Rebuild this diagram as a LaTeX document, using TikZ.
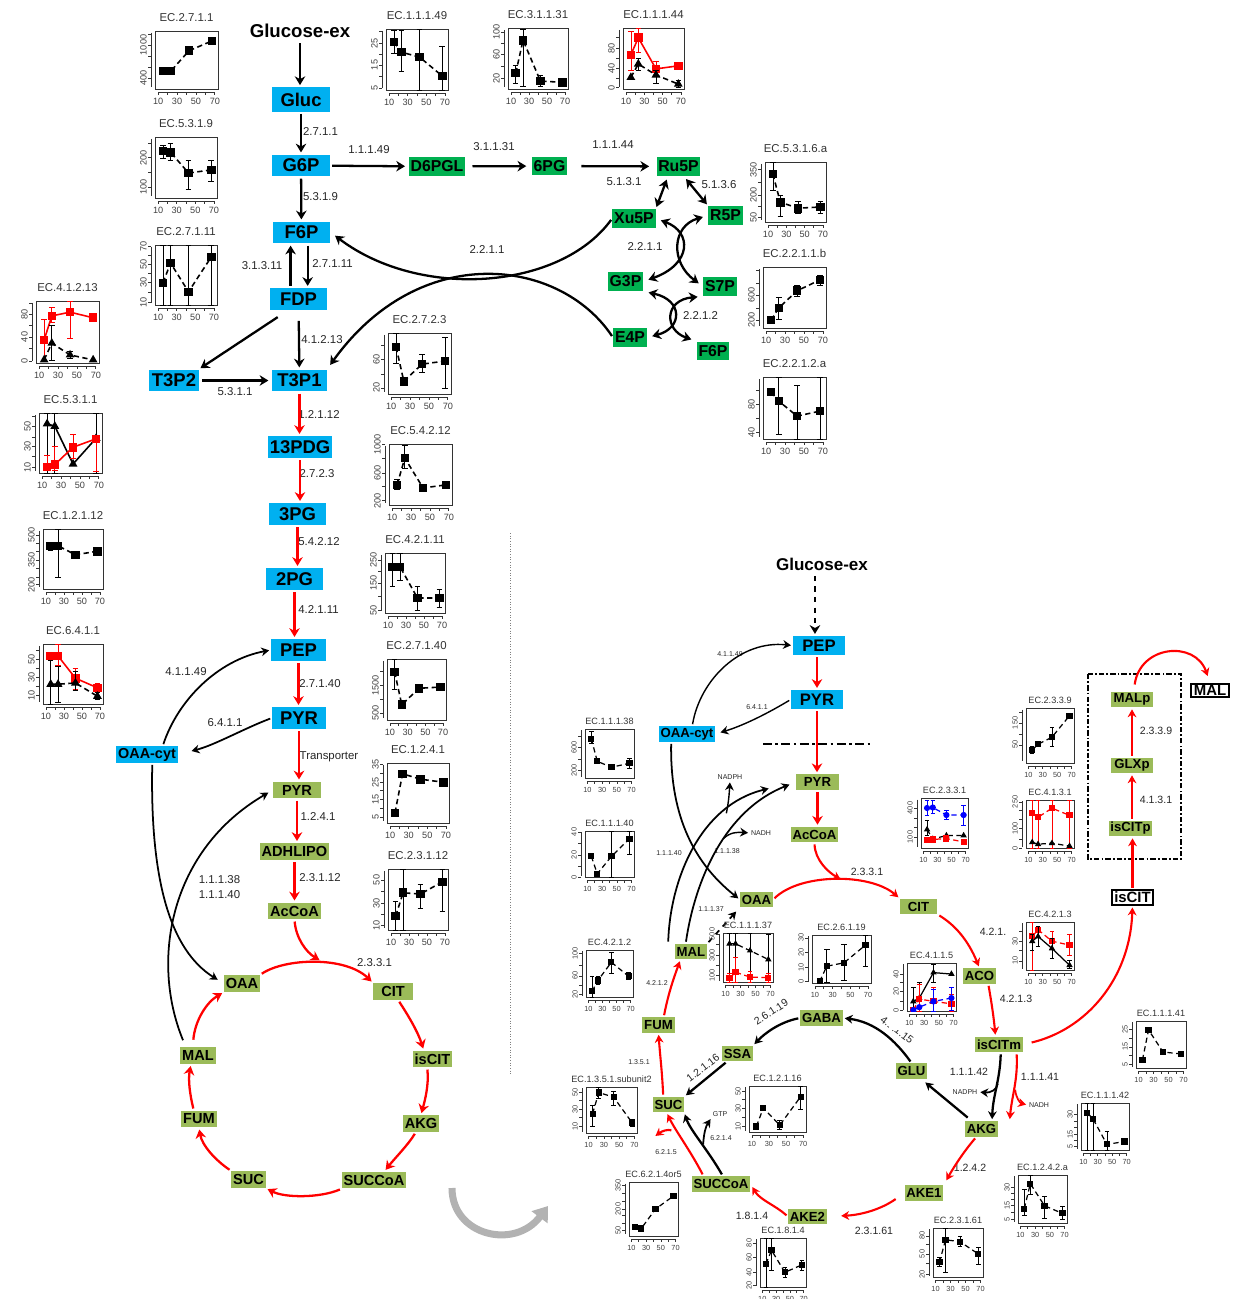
\documentclass[tikz,border=0pt]{standalone}
\usepackage{fontspec}
\setmainfont{Liberation Sans}
\usetikzlibrary{arrows.meta,plotmarks}
\definecolor{cytblue}{HTML}{00B0F0}
\definecolor{pppgreen}{HTML}{00B050}
\definecolor{mitogreen}{HTML}{9BBB59}
\newcommand\ecplot[8][]{%
  \begin{scope}[shift={(#2,#3)},#1]
    \draw[pframe] (0,0) rectangle (#4,#5);
    \node[ptitle] at ({#4/2},0) {#6};
    \draw[paxis] (-4,{0.03*#5}) -- (-4,{0.97*#5});
    \foreach \f/\l in {#7}{\draw[paxis] (-4,{(1-\f)*#5}) -- (-7,{(1-\f)*#5}) node[ylab] {\l};}
    \draw[paxis] ({0.05*#4},#5+3) -- ({0.95*#4},#5+3);
    \foreach \d in {10,20,...,70}{\draw[paxis] ({(0.015*\d-0.1)*#4},#5+3) -- ({(0.015*\d-0.1)*#4},#5+6);}
    \foreach \d in {10,30,50,70}{\node[xlab] at ({(0.015*\d-0.1)*#4},#5+8) {\d};}
    \pgfmathsetmacro\ecxu{0.0003*#4}%
    \pgfmathsetmacro\ecyu{0.02*#5}%
    \begin{scope}[shift={({-0.1*#4},#5)},x=\ecxu cm,y=\ecyu cm]
      \clip (6.67,0) rectangle (73.33,1);
      #8
    \end{scope}
  \end{scope}}
\newcommand\sq[2][]{\draw[pline,#1,mark=square*] plot coordinates {#2};}
\newcommand\tri[2][]{\draw[pline,#1,mark=triangle*] plot coordinates {#2};}
\newcommand\circs[2][]{\draw[pline,blue,#1,mark=*] plot coordinates {#2};}
\newcommand\eb[4][]{\draw[ebar,#1] (#2,#3) -- (#2,#4) (#2-3,#3) -- (#2+3,#3) (#2-3,#4) -- (#2+3,#4);}
\begin{document}
\begin{tikzpicture}[x=0.02cm,y=-0.02cm,
  bluebox/.style={fill=cytblue,font=\fontsize{10.5}{12}\selectfont\bfseries,minimum width=33pt,minimum height=12.5pt,inner sep=1pt},
  bluesm/.style={bluebox,font=\fontsize{9.5}{11}\selectfont\bfseries,minimum width=29.5pt,minimum height=10.8pt},
  cytsm/.style={bluebox,font=\fontsize{8.2}{9}\selectfont\bfseries,minimum width=0pt,minimum height=9.5pt},
  pppbox/.style={fill=pppgreen,font=\fontsize{9}{10}\selectfont\bfseries,minimum height=10.8pt,inner xsep=1pt,inner ysep=0pt},
  mitobox/.style={fill=mitogreen,font=\fontsize{8.3}{9}\selectfont\bfseries,minimum height=9.6pt,inner xsep=1pt,inner ysep=0pt},
  mitosm/.style={mitobox,font=\fontsize{7.5}{8}\selectfont\bfseries,minimum height=8.8pt},
  outbox/.style={draw,line width=1.1pt,font=\fontsize{8.5}{9}\selectfont\bfseries,inner xsep=1.5pt,inner ysep=1pt},
  glc/.style={font=\fontsize{10.6}{12}\selectfont\bfseries,inner sep=1pt},
  ec/.style={font=\fontsize{6.5}{9}\selectfont,inner sep=0.5pt,text=black!85},
  ecm/.style={ec,font=\fontsize{6}{7}\selectfont},
  ecs/.style={ec,font=\fontsize{4}{5}\selectfont},
  flux/.style={line width=1.3pt,-{Stealth[length=5pt,width=6pt]},shorten >=1pt,shorten <=1pt},
  rflux/.style={flux,red},
  dflux/.style={flux,{Stealth[length=5pt,width=6pt]}-{Stealth[length=5pt,width=6pt]}},
  tflux/.style={line width=1pt,-{Stealth[length=4.5pt,width=5pt]},shorten >=1pt,shorten <=1pt},
  rtflux/.style={tflux,red,line width=1.2pt},
  dashdot/.style={line width=1.3pt,dash pattern=on 5pt off 2pt on 1.5pt off 2pt},
  boxdash/.style={line width=1pt,dash pattern=on 3pt off 1.2pt on 1pt off 1.2pt},
  pframe/.style={line width=0.5pt,black!80},
  paxis/.style={line width=0.4pt,black!80},
  ptitle/.style={anchor=south,yshift=4pt,inner sep=1pt,font=\fontsize{6.5}{7}\selectfont,text=black!80},
  ptick/.style={inner sep=0.6pt,font=\fontsize{5.2}{6}\selectfont,text=black!75},
  ylab/.style={ptick,rotate=90,anchor=south},
  xlab/.style={ptick,anchor=north},
  pline/.style={black,densely dashed,line width=0.9pt,mark size=2pt,mark options={solid}},
  ebar/.style={black,line width=0.4pt},
  smallplot/.style={ptitle/.append style={yshift=-2.5pt,font=\fontsize{5.2}{6}\selectfont},ptick/.append style={font=\fontsize{4.2}{5}\selectfont},pline/.append style={mark size=1.4pt,line width=0.7pt}}]
\useasboundingbox (0,0) rectangle (1236,1299);

\node[glc] (glcex) at (300,31) {Glucose-ex};
\node[bluebox,minimum height=14pt] (gluc) at (301,99.5) {Gluc};
\node[bluebox] (g6p) at (301,165.5) {G6P};
\node[bluebox] (f6p) at (301.5,232.5) {F6P};
\node[bluebox] (fdp) at (298.5,299) {FDP};
\node[bluebox,minimum width=28pt] (tp2) at (174,380.5) {T3P2};
\node[bluebox,minimum width=31pt] (tp1) at (299.5,380.5) {T3P1};
\node[bluebox] (pdg) at (300,447) {13PDG};
\node[bluebox] (pg3) at (297.5,514) {3PG};
\node[bluebox] (pg2) at (294.5,579) {2PG};
\node[bluebox,minimum width=31pt] (pep) at (298.5,650) {PEP};
\node[bluebox,minimum width=30.5pt] (pyr) at (299,718) {PYR};
\node[cytsm] (oaacyt) at (147,754.5) {OAA-cyt};
\node[mitobox,minimum width=27pt] (pyrm) at (297,790) {PYR};
\node[mitobox] (adh) at (294.5,851.5) {ADHLIPO};
\node[mitobox] (accoa) at (294.5,911) {AcCoA};
\node[mitobox] (oaa) at (242,983.5) {OAA};
\node[mitobox,minimum width=22.5pt] (cit) at (393,991.5) {CIT};
\node[mitobox] (iscit) at (432.5,1059) {isCIT};
\node[mitobox] (akg) at (421,1123.5) {AKG};
\node[mitobox] (succoa) at (374,1180) {SUCCoA};
\node[mitobox] (suc) at (248.5,1179.5) {SUC};
\node[mitobox] (fum) at (199,1119) {FUM};
\node[mitobox] (mal) at (198,1055.5) {MAL};
\node[pppbox] (d6pgl) at (437,166.5) {D6PGL};
\node[pppbox] (pg6) at (549.5,166) {6PG};
\node[pppbox] (ru5p) at (678.5,166.5) {Ru5P};
\node[pppbox] (xu5p) at (634,218.5) {Xu5P};
\node[pppbox] (r5p) at (725.5,215.5) {R5P};
\node[pppbox] (g3p) at (625.5,281.5) {G3P};
\node[pppbox] (s7p) at (720,286.5) {S7P};
\node[pppbox] (e4p) at (630,337.5) {E4P};
\node[pppbox] (f6pb) at (713,351) {F6P};

\node[ec] (t2711) at (320.5,131.5) {2.7.1.1};
\node[ec] (t11149) at (369,150) {1.1.1.49};
\node[ec] (t31131) at (494,146.5) {3.1.1.31};
\node[ec] (t11144) at (613,145) {1.1.1.44};
\node[ec] (t5131) at (624,182) {5.1.3.1};
\node[ec] (t5136) at (719,185) {5.1.3.6};
\node[ec] (t2211a) at (487,250) {2.2.1.1};
\node[ec] (t2211b) at (645,247) {2.2.1.1};
\node[ec] (t2212) at (700.5,316) {2.2.1.2};
\node[ec] (t5319) at (320.5,197) {5.3.1.9};
\node[ec] (t31311) at (262,266) {3.1.3.11};
\node[ec] (t27111) at (332.5,264) {2.7.1.11};
\node[ec] (t41213) at (322,340) {4.1.2.13};
\node[ec] (t5311) at (235,391.5) {5.3.1.1};
\node[ec] (t12112) at (319,415) {1.2.1.12};
\node[ec] (t2723) at (317,474) {2.7.2.3};
\node[ec] (t54212) at (319,542) {5.4.2.12};
\node[ec] (t42111) at (318.5,610) {4.2.1.11};
\node[ec] (t41149) at (186,672) {4.1.1.49};
\node[ec] (t27140) at (320,684) {2.7.1.40};
\node[ec] (t6411) at (225,723) {6.4.1.1};
\node[ec] (ttrans) at (329,757) {Transporter};
\node[ec] (t1241) at (318,816) {1.2.4.1};
\node[ec,align=center] (t11138) at (219.5,887) {1.1.1.38\\1.1.1.40};
\node[ec] (t23112) at (320,878) {2.3.1.12};
\node[ec] (t2331) at (374.5,963) {2.3.3.1};

\draw[flux,shorten <=2pt] (glcex.south) -- (glcex.south |- gluc.north);
\draw[flux] (gluc) -- (g6p);
\draw[flux] (g6p) -- (f6p);
\draw[flux] ([xshift=3.5pt]f6p.south) -- ([xshift=3.5pt]f6p.south |- fdp.north);
\draw[flux] ([xshift=-4.5pt]fdp.north) -- ([xshift=-4.5pt]fdp.north |- f6p.south);
\draw[flux,shorten >=2pt] (g6p) -- (d6pgl);
\draw[flux,shorten <=4pt,shorten >=3pt] (d6pgl) -- (pg6);
\draw[flux,shorten <=8pt,shorten >=4pt] (pg6) -- (ru5p);
\draw[dflux,shorten <=2pt] ([xshift=-6pt]ru5p.south) -- (xu5p.north east);
\draw[dflux,shorten <=2pt] ([xshift=3pt]ru5p.south) -- (r5p.north west);
\draw[dflux,shorten <=3pt,shorten >=3pt] (xu5p.east) .. controls (692,232) and (692,264) .. (g3p.east);
\draw[dflux,shorten <=3pt,shorten >=3pt] (r5p.west) .. controls (672,226) and (670,262) .. (s7p.west);
\draw[dflux,shorten <=3pt,shorten >=3pt] (g3p.south east) .. controls (683,300) and (683,328) .. (e4p.east);
\draw[dflux,shorten <=3pt,shorten >=3pt] (s7p.south west) .. controls (664,300) and (664,330) .. (f6pb.north west);
\draw[flux,shorten >=3pt] (xu5p.west) .. controls (560,290) and (420,300) .. (f6p.east);
\draw[flux,shorten >=3pt] (e4p.west) .. controls (560,258) and (420,240) .. (tp1.north east);
\draw[flux,shorten <=7pt] ([xshift=-6pt]fdp.south) -- (tp2.north east);
\draw[flux,shorten <=6pt] (fdp) -- (tp1);
\draw[flux,shorten <=2pt,shorten >=2pt] (tp2) -- (tp1);
\foreach \a/\b in {tp1/pdg,pdg/pg3,pg3/pg2,pg2/pep,pep/pyr,pyr/pyrm,pyrm/adh,adh/accoa}
  \draw[rflux] (\a.south) -- (\a.south |- \b.north);

\coordinate (ctop) at (321,961);
\draw[rflux] (accoa.south) .. controls (296,938) and (306,952) .. (ctop);
\draw[rflux] (oaa.north east) .. controls (285,958) and (345,956) .. (cit.north west);
\draw[rflux] ([xshift=3pt]cit.south) .. controls (408,1015) and (418,1032) .. ([xshift=-5pt]iscit.north);
\draw[rflux] ([xshift=-3pt]iscit.south) .. controls (429,1085) and (425,1100) .. (akg.north);
\draw[rflux] ([xshift=-3pt]akg.south) .. controls (408,1145) and (395,1158) .. ([xshift=6pt]succoa.north);
\draw[rflux] (succoa.south west) .. controls (320,1198) and (285,1198) .. (suc.south east);
\draw[rflux] (suc.north west) .. controls (215,1160) and (202,1145) .. (fum.south);
\draw[rflux] ([xshift=-3pt]fum.north) .. controls (190,1095) and (188,1080) .. ([xshift=-4pt]mal.south);
\draw[rflux,shorten <=4pt] ([xshift=-3pt]mal.north) .. controls (195,1020) and (207,1002) .. (oaa.south west);

\draw[tflux] ([xshift=9pt]oaacyt.north) .. controls (178,700) and (218,660) .. (pep.west);
\draw[tflux,shorten >=8pt] (pyr.west) .. controls (245,728) and (215,745) .. (oaacyt.east);
\draw[tflux,shorten >=4pt] ([xshift=3pt]oaacyt.south) .. controls (150,880) and (170,950) .. (oaa.west);
\draw[tflux,shorten <=4pt,shorten >=3pt] ([xshift=-7pt]mal.north) .. controls (150,960) and (170,850) .. (pyrm.west);

\draw[black!50,densely dotted,line width=0.5pt] (510,533) -- (510,1075);
\draw[black!30,line width=4pt,-{Triangle[length=8pt,width=11pt]}] (452,1188) .. controls (452,1236) and (515,1250) .. (548,1206);

\node[glc,font=\fontsize{9.7}{11}\selectfont\bfseries] (glcex2) at (822,564) {Glucose-ex};
\node[bluesm] (pep2) at (819,645.5) {PEP};
\node[bluesm] (pyr2) at (817,699.5) {PYR};
\node[cytsm,font=\fontsize{7.5}{8}\selectfont\bfseries,minimum height=8pt] (oaacyt2) at (687,734) {OAA-cyt};
\node[mitosm,minimum width=24pt] (pyrm2) at (817.5,782) {PYR};
\node[mitosm] (accoa2) at (814.5,834.5) {AcCoA};
\node[mitosm] (oaa2) at (756.5,899.5) {OAA};
\node[mitosm,minimum width=21pt] (cit2) at (918.5,906.5) {CIT};
\node[mitosm] (aco) at (979.5,976) {ACO};
\node[mitosm] (iscitm) at (999,1044.5) {isCITm};
\node[mitosm] (glu) at (911.5,1071) {GLU};
\node[mitosm] (akg2) at (981.5,1129) {AKG};
\node[mitosm] (ake1) at (924,1193) {AKE1};
\node[mitosm] (ake2) at (807.5,1216.5) {AKE2};
\node[mitosm] (succoa2) at (721,1184) {SUCCoA};
\node[mitosm] (suc2) at (668.5,1104.5) {SUC};
\node[mitosm] (ssa) at (737.5,1053.5) {SSA};
\node[mitosm] (gaba) at (821.5,1018) {GABA};
\node[mitosm] (fum2) at (658.5,1025) {FUM};
\node[mitosm] (mal2) at (691,951.5) {MAL};
\node[outbox] (iscit2) at (1132.5,897.5) {isCIT};
\node[mitosm,minimum width=24pt] (iscitp) at (1130.5,828.5) {isCITp};
\node[mitosm,minimum width=23.5pt] (glxp) at (1132,765.5) {GLXp};
\node[mitosm,minimum width=23.5pt] (malp) at (1132,699.5) {MALp};
\node[outbox] (mal3) at (1210,690.5) {MAL};
\draw[boxdash] (1088,674) rectangle (1181,859);

\node[ecs] (r41149) at (730,654) {4.1.1.49};
\node[ecs] (r6411) at (757,707) {6.4.1.1};
\node[ecs] (nadpha) at (730,777) {NADPH};
\node[ecs] (nadha) at (761,833) {NADH};
\node[ecs] (r11140) at (669,853) {1.1.1.40};
\node[ecs] (r11138) at (727,851) {1.1.1.38};
\node[ecm] (r2331) at (867,872) {2.3.3.1};
\node[ecs] (r11137) at (711,909) {1.1.1.37};
\node[ecs] (r4212) at (657,983) {4.2.1.2};
\node[ecm] (r421) at (993,932) {4.2.1.};
\node[ecm] (r4213) at (1016,999) {4.2.1.3};
\node[ecm] (r11142) at (969,1072) {1.1.1.42};
\node[ecs] (nadphb) at (965,1092) {NADPH};
\node[ecm] (r11141) at (1040,1077) {1.1.1.41};
\node[ecs] (nadhb) at (1039,1105) {NADH};
\node[ecm] (r1242) at (970,1168) {1.2.4.2};
\node[ecm] (r23161) at (874,1231) {2.3.1.61};
\node[ecm] (r1814) at (752,1216) {1.8.1.4};
\node[ecs] (r1351) at (639,1062) {1.3.5.1};
\node[ecs] (r6215) at (666,1152) {6.2.1.5};
\node[ecs] (gtp) at (720,1114) {GTP};
\node[ecs] (r6214) at (721,1138) {6.2.1.4};
\node[ecm,rotate=33] (r26119) at (771,1012) {2.6.1.19};
\node[ecm,rotate=37] (r12116) at (703,1068) {1.2.1.16};
\node[ecm,rotate=-37] (r41115) at (897,1030) {4.1.1.15};
\node[ecm] (r2339) at (1156,731) {2.3.3.9};
\node[ecm] (r4131) at (1156,800) {4.1.3.1};

\draw[flux,dashed,shorten <=2pt] ([xshift=-4pt]glcex2.south) -- ([xshift=-4pt]glcex2.south |- pep2.north);
\draw[rflux,line width=1.2pt] (pyr2.north |- pep2.south) -- (pyr2.north);
\draw[rflux,line width=1.2pt] (pyr2.south) -- (pyr2.south |- pyrm2.north);
\draw[dashdot] (763,744) -- (872,744);
\draw[rflux,line width=1.2pt] (pyrm2.south) -- (pyrm2.south |- accoa2.north);
\draw[tflux,line width=0.8pt] ([xshift=3pt]oaacyt2.north) .. controls (700,680) and (740,640) .. (pep2.west);
\draw[tflux,line width=0.8pt,shorten >=3pt] (pyr2.west) .. controls (770,712) and (745,725) .. (oaacyt2.east);
\draw[tflux] ([xshift=-9pt]oaacyt2.south) .. controls (670,810) and (690,860) .. (oaa2.west);
\coordinate (tcatop) at (842,880);
\draw[rtflux] (accoa2.south) .. controls (815,860) and (828,872) .. (tcatop);
\draw[rtflux] (oaa2.east) .. controls (800,873) and (870,873) .. (cit2.north west);
\draw[rtflux] ([xshift=11pt]cit2.south) .. controls (955,925) and (968,940) .. (aco.north);
\draw[rtflux] ([xshift=5pt]aco.south) .. controls (992,1005) and (994,1020) .. ([xshift=-2pt]iscitm.north);
\draw[rtflux,shorten <=5pt] (iscitm.east) .. controls (1085,1030) and (1130,980) .. (iscit2.south);
\draw[rtflux] (iscit2.north) -- (iscit2.north |- iscitp.south);
\draw[rtflux] (glxp.south |- iscitp.north) -- (glxp.south);
\draw[rtflux] (glxp.north) -- (glxp.north |- malp.south);
\draw[rtflux,shorten <=4pt,shorten >=4pt] ([xshift=1pt]malp.north) .. controls (1140,645) and (1195,640) .. (mal3.north);
\draw[tflux,line width=1.3pt] ([xshift=1pt]iscitm.south) .. controls (1000,1080) and (993,1095) .. ([xshift=6pt]akg2.north);
\coordinate (bra) at (998,1082);
\draw[tflux] (bra) .. controls (997,1090) and (990,1093) .. (nadphb.east);
\draw[rtflux] ([xshift=10pt]iscitm.south) .. controls (1018,1080) and (1012,1095) .. ([xshift=16pt]akg2.north);
\coordinate (brb) at (1015,1088);
\draw[rtflux,line width=1pt] (brb) .. controls (1016,1098) and (1020,1103) .. (nadhb.west);
\draw[tflux,line width=1.3pt,shorten <=3pt,shorten >=3pt] (akg2) -- (glu);
\draw[rtflux,shorten >=3pt] ([xshift=-3pt]akg2.south) .. controls (965,1150) and (955,1165) .. (ake1.north east);
\draw[rtflux,shorten <=6pt,shorten >=8pt] (ake1.west) .. controls (880,1210) and (860,1215) .. (ake2.east);
\draw[rtflux,shorten >=2pt] (ake2.west) .. controls (775,1205) and (760,1200) .. (succoa2.east);
\draw[tflux,line width=1.3pt] (glu.north) .. controls (895,1040) and (875,1022) .. (gaba.east);
\draw[tflux,line width=1.3pt] (gaba.west) .. controls (780,1022) and (765,1033) .. (ssa.north east);
\draw[tflux,line width=1.3pt] ([xshift=-6pt]ssa.south) -- (suc2.north east);
\draw[tflux,line width=1.3pt] ([xshift=1pt]succoa2.north) .. controls (708,1150) and (690,1130) .. ([xshift=9pt]suc2.south);
\coordinate (brc) at (703,1146);
\draw[tflux] (brc) .. controls (704,1132) and (706,1126) .. (gtp.south west);
\draw[rtflux] ([xshift=-10pt]succoa2.north) .. controls (690,1150) and (675,1130) .. ([xshift=-1pt]suc2.south);
\coordinate (brd) at (673,1131);
\coordinate (sucout) at (654,1137);
\draw[rtflux] (brd) .. controls (668,1129) and (662,1131) .. (sucout);
\draw[rtflux] ([xshift=-3pt]suc2.north) .. controls (662,1070) and (660,1055) .. (fum2.south);
\draw[rtflux] ([xshift=3pt]fum2.north) .. controls (668,995) and (673,980) .. ([xshift=-6pt]mal2.south);
\draw[tflux,dashed,shorten >=3pt] (mal2.north east) -- (oaa2.south west);
\draw[tflux,shorten >=16pt] ([xshift=-13pt]mal2.north) .. controls (670,880) and (700,805) .. (pyrm2.west);
\coordinate (bre) at (726,815);
\draw[tflux,line width=0.8pt] (bre) .. controls (728,805) and (729,798) .. (nadpha.south);
\draw[tflux,shorten >=4pt] ([xshift=-3pt]mal2.north) .. controls (695,880) and (725,810) .. (pyrm2.west);
\coordinate (brf) at (722,840);
\draw[tflux,line width=0.8pt] (brf) .. controls (730,832) and (738,832) .. (nadha.west);

\ecplot{155}{31}{63}{58}{EC.2.7.1.1}{0.19/400,0.38/{},0.57/{},0.76/1000,0.95/{}}{\sq{(15,.31) (23,.31) (42,.66) (66,.83)}\eb{15}{.27}{.34}\eb{23}{.27}{.34}}
\ecplot{155}{137}{62}{61}{EC.5.3.1.9}{0.18/100,0.42/{},0.66/200,0.9/{}}{\sq{(15,.77) (23,.75) (42,.41) (66,.46)}\eb{15}{.65}{.87}\eb{23}{.62}{.9}\eb{42}{.15}{.62}\eb{66}{.28}{.62}}
\ecplot{155}{245}{62}{60}{EC.2.7.1.11}{0.05/10,0.21/{},0.37/30,0.52/{},0.67/50,0.82/{},0.97/70}{\sq{(15,.37) (23,.70) (42,.22) (66,.80)}\eb{15}{0}{1}\eb{23}{0}{1}\eb{42}{0}{1}\eb{66}{0}{1}}
\ecplot{386}{29}{62}{61}{EC.1.1.1.49}{0.03/5,0.22/{},0.41/15,0.59/{},0.77/25,0.96/{}}{\sq{(15,.79) (23,.62) (42,.54) (66,.23)}\eb{15}{.6}{.97}\eb{23}{.3}{.97}\eb{42}{0}{1}\eb{66}{0}{.72}}
\ecplot{508}{28}{60}{61}{EC.3.1.1.31}{0.18/20,0.37/{},0.56/60,0.75/{},0.93/100}{\sq{(15,.26) (23,.8) (42,.13) (66,.11)}\eb{15}{.1}{.38}\eb{23}{.05}{.97}\eb{42}{.05}{.22}}
\ecplot{623}{28}{61}{61}{EC.1.1.1.44}{0.02/0,0.18/{},0.34/40,0.51/{},0.67/80,0.84/{}}{\sq[red,solid]{(15,.56) (23,.84) (42,.33) (66,.38)}\eb[red]{15}{.3}{.95}\eb[red]{23}{.6}{1}\eb[red]{42}{.1}{.45}\tri{(15,.19) (23,.41) (42,.23) (66,.08)}\eb{23}{.3}{.5}\eb{42}{.1}{.3}\eb{66}{.03}{.15}}
\ecplot{765}{162}{61}{60}{EC.5.3.1.6.a}{0.07/50,0.26/{},0.45/200,0.66/{},0.87/350}{\sq{(15,.8) (23,.33) (42,.23) (66,.25)}\eb{15}{.53}{1}\eb{23}{.1}{.45}\eb{42}{.15}{.35}\eb{66}{.15}{.35}}
\ecplot{763}{267}{63}{61}{EC.2.2.1.1.b}{0.13/200,0.33/{},0.54/600,0.74/{},0.94/{}}{\sq{(15,.13) (23,.33) (42,.61) (66,.79)}\eb{15}{.07}{.18}\eb{23}{.15}{.5}\eb{42}{.52}{.7}\eb{66}{.7}{.87}}
\ecplot{763}{377}{63}{62}{EC.2.2.1.2.a}{0.11/40,0.33/{},0.56/80,0.78/{}}{\sq{(15,.76) (23,.61) (42,.37) (66,.45)}\eb{23}{.08}{1}\eb{42}{0}{.87}\eb{66}{0}{1}}
\ecplot{388}{333}{63}{61}{EC.2.7.2.3}{0.1/20,0.33/{},0.57/60,0.8/{}}{\sq{(15,.77) (23,.21) (42,.49) (66,.54)}\eb{15}{.5}{1}\eb{23}{.15}{.27}\eb{42}{.35}{.65}\eb{66}{.1}{.93}}
\ecplot{389}{444}{63}{61}{EC.5.4.2.12}{0.07/200,0.3/{},0.52/600,0.76/{},0.99/1000}{\sq{(15,.33) (23,.77) (42,.28) (66,.33)}\eb{15}{.25}{.42}\eb{23}{.6}{.98}}
\ecplot{385}{553}{60}{60}{EC.4.2.1.11}{0.05/50,0.27/{},0.5/150,0.7/{},0.88/250}{\sq{(15,.77) (23,.77) (42,.25) (66,.25)}\eb{15}{.45}{1}\eb{23}{.55}{1}\eb{42}{.05}{.45}\eb{66}{.1}{.4}}
\ecplot{387}{659}{59}{61}{EC.2.7.1.40}{0.11/500,0.34/{},0.57/1500,0.8/{}}{\sq{(15,.79) (23,.25) (42,.52) (66,.54)}\eb{15}{.5}{1}\eb{42}{.45}{.58}}
\ecplot{387}{763}{62}{60}{EC.1.2.4.1}{0.1/5,0.25/{},0.4/15,0.54/{},0.68/25,0.83/{},0.98/35}{\sq{(15,.17) (23,.82) (42,.73) (66,.68)}}
\ecplot{388}{869}{60}{61}{EC.2.3.1.12}{0.08/10,0.26/{},0.44/30,0.63/{},0.82/50}{\sq{(15,.23) (23,.61) (42,.59) (66,.79)}\eb{15}{0}{.47}\eb{23}{0}{1}\eb{42}{.35}{.75}\eb{66}{.3}{1}}
\ecplot{36}{301}{63}{62}{EC.4.1.2.13}{0.03/0,0.23/{},0.42/40,0.6/{},0.79/80,0.97/{}}{\sq[red,solid]{(15,.37) (23,.76) (42,.82) (66,.73)}\eb[red]{15}{.05}{.7}\eb[red]{23}{.65}{.9}\eb[red]{42}{.4}{1}\tri{(15,.05) (23,.32) (42,.13) (66,.05)}\eb{23}{.05}{.6}\eb{42}{.08}{.18}}
\ecplot{39}{413}{63}{60}{EC.5.3.1.1}{0.1/10,0.27/{},0.44/30,0.6/{},0.77/50,0.94/{}}{\tri[solid]{(15,.82) (23,.78) (42,.15) (66,.58)}\eb{15}{0}{1}\eb{23}{0}{1}\eb{66}{0}{1}\sq[red,solid]{(15,.1) (23,.14) (42,.43) (66,.57)}\eb[red]{15}{.05}{.3}\eb[red]{23}{.05}{.45}\eb[red]{42}{.25}{.65}\eb[red]{66}{.03}{.62}}
\ecplot{43}{529}{60}{60}{EC.1.2.1.12}{0.07/200,0.2/{},0.34/{},0.48/350,0.62/{},0.76/{},0.9/500}{\sq{(15,.72) (23,.72) (42,.57) (66,.63)}\eb{15}{.65}{.78}\eb{23}{.2}{1}}
\ecplot{43}{644}{60}{60}{EC.6.4.1.1}{0.15/10,0.3/{},0.45/30,0.6/{},0.75/50,0.9/{}}{\sq[red,solid]{(15,.8) (23,.8) (42,.43) (66,.27)}\eb[red]{23}{.65}{1}\eb[red]{42}{.25}{.6}\eb[red]{66}{.2}{.35}\tri{(15,.33) (23,.33) (42,.35) (66,.13)}\eb{15}{0}{.73}\eb{23}{.03}{.62}\eb{42}{.22}{.55}\eb{66}{.08}{.2}}

\ecplot[smallplot]{585}{729}{49}{49}{EC.1.1.1.38}{0.16/200,0.39/{},0.63/600,0.86/{}}{\sq{(15,.8) (23,.34) (42,.22) (66,.3)}\eb{15}{.7}{.95}\eb{66}{.2}{.4}}
\ecplot[smallplot]{585}{831}{49}{46}{EC.1.1.1.40}{0/0,0.24/{},0.48/20,0.73/{},0.98/40}{\sq{(15,.45) (23,.07) (42,.45) (66,.83)}\eb{42}{0}{1}\eb{66}{.5}{1}}
\ecplot[smallplot]{921}{798}{47}{50}{EC.2.3.3.1}{0.22/100,0.41/{},0.6/{},0.8/400}{\circs{(15,.8) (23,.81) (42,.66) (66,.66)}\eb[blue]{15}{.65}{.95}\eb[blue]{23}{.7}{.95}\eb[blue]{42}{.58}{.75}\eb[blue]{66}{.45}{.85}\tri{(15,.37) (23,.18) (42,.25) (66,.25)}\eb{15}{.25}{.55}\sq[red]{(15,.16) (23,.17) (42,.19) (66,.12)}}
\ecplot[smallplot]{1026}{708}{48}{55}{EC.2.3.3.9}{0.33/50,0.53/{},0.73/150,0.93/{}}{\sq{(15,.24) (23,.34) (42,.47) (66,.86)}\eb{15}{.18}{.3}\eb{42}{.3}{.65}}
\ecplot[smallplot]{1026}{800}{48}{48}{EC.4.1.3.1}{0/0,0.19/{},0.4/100,0.59/{},0.78/{},0.96/250}{\sq[red]{(15,.73) (23,.64) (42,.83) (66,.68)}\eb[red]{15}{0}{1}\eb[red]{23}{0}{1}\eb[red]{42}{0}{1}\eb[red]{66}{0}{1}\tri{(15,.12) (23,.08) (42,.1) (66,.04)}}
\ecplot[smallplot]{1026}{922}{48}{48}{EC.4.2.1.3}{0.19/10,0.4/{},0.6/30,0.8/{}}{\sq[red]{(15,.7) (23,.84) (42,.6) (66,.52)}\eb[red]{15}{0}{1}\eb[red]{42}{.45}{.8}\eb[red]{66}{.3}{.75}\tri[solid]{(15,.6) (23,.7) (42,.45) (66,.1)}\eb{15}{.4}{.75}\eb{23}{.5}{.9}\eb{42}{.25}{.65}\eb{66}{.03}{.2}}
\fill[white] (889,950) rectangle (960,1030);
\ecplot[smallplot]{907}{963}{49}{48}{EC.4.1.1.5}{0.02/0,0.21/{},0.4/20,0.59/{},0.77/40}{\tri[solid]{(15,.2) (23,.27) (42,.8) (66,.77)}\eb{15}{0}{.5}\eb{23}{0}{.6}\eb{42}{.6}{.98}\sq[red]{(15,.02) (23,.25) (42,.2) (66,.15)}\eb[red]{23}{0}{.55}\eb[red]{42}{0}{.5}\eb[red]{66}{0}{.35}\circs{(15,.02) (23,.08) (42,.2) (66,.27)}\eb[blue]{42}{0}{.45}\eb[blue]{66}{.02}{.5}}
\ecplot[smallplot]{1136}{1021}{50}{47}{EC.1.1.1.41}{0.08/5,0.27/{},0.45/15,0.64/{},0.83/25}{\sq{(15,.17) (23,.81) (42,.34) (66,.3)}}
\ecplot[smallplot]{1081}{1103}{48}{47}{EC.1.1.1.42}{0.08/5,0.21/{},0.34/15,0.48/{},0.61/{},0.75/30}{\sq{(15,.79) (23,.66) (42,.12) (66,.18)}\eb{15}{0}{1}\eb{23}{0}{1}\eb{42}{0}{.4}}
\ecplot[smallplot]{1018}{1175}{49}{48}{EC.1.2.4.2.a}{0.08/5,0.22/{},0.36/15,0.5/{},0.62/{},0.74/30}{\sq{(15,.3) (23,.82) (42,.36) (66,.2)}\eb{15}{.15}{.7}\eb{23}{.6}{1}\eb{42}{.1}{.55}\eb{66}{.08}{.35}}
\ecplot[smallplot]{749}{1086}{57}{46}{EC.1.2.1.16}{0.12/10,0.32/{},0.52/30,0.7/{},0.88/50}{\sq{(15,.12) (23,.52) (42,.15) (66,.77)}\eb{42}{.05}{.25}\eb{66}{.5}{1}}
\ecplot[smallplot]{586}{1087}{51}{46}{EC.1.3.5.1.subunit2}{0.15/10,0.33/{},0.51/30,0.7/{},0.88/50}{\sq{(15,.42) (23,.88) (42,.78) (66,.22)}\eb{15}{.15}{.6}\eb{23}{.75}{1}\eb{42}{.6}{.9}\eb{66}{.15}{.3}}
\ecplot[smallplot]{586}{950}{47}{47}{EC.4.2.1.2}{0.05/20,0.25/{},0.45/60,0.68/{},0.92/100}{\sq{(15,.12) (23,.35) (42,.74) (66,.44)}\eb{15}{0}{.45}\eb{23}{.28}{.45}\eb{42}{.5}{.95}\eb{66}{.38}{.52}}
\ecplot[smallplot]{723}{933}{50}{49}{EC.1.1.1.37}{0.14/100,0.35/{},0.55/300,0.76/{},0.98/500}{\tri{(15,.78) (23,.78) (42,.64) (66,.46)}\eb{15}{0}{1}\eb{23}{0}{1}\eb{42}{0}{1}\eb{66}{0}{.98}\sq[red]{(15,.08) (23,.2) (42,.1) (66,.09)}\eb[red]{15}{0}{.18}\eb[red]{23}{0}{.5}\eb[red]{42}{0}{.22}\eb[red]{66}{0}{.18}}
\ecplot[smallplot]{812}{935}{59}{48}{EC.2.6.1.19}{0.03/0,0.33/10,0.63/20,0.94/30}{\sq{(15,.03) (23,.35) (42,.42) (66,.79)}\eb{23}{.02}{.7}\eb{42}{.05}{.8}\eb{66}{.35}{1}}
\ecplot[smallplot]{629}{1182}{49}{54}{EC.6.2.1.4or5}{0.1/50,0.24/{},0.38/{},0.5/200,0.65/{},0.79/{},0.93/350}{\sq{(15,.16) (23,.14) (42,.5) (66,.74)}}
\ecplot[smallplot]{760}{1238}{46}{49}{EC.1.8.1.4}{0.04/20,0.29/40,0.6/60,0.9/80}{\sq{(15,.47) (23,.75) (42,.3) (66,.45)}\eb{15}{0}{1}\eb{23}{.35}{1}\eb{42}{.2}{.4}\eb{66}{.35}{.55}}
\ecplot[smallplot]{933}{1228}{50}{49}{EC.2.3.1.61}{0.06/20,0.27/{},0.47/50,0.66/{},0.84/80}{\sq{(15,.3) (23,.76) (42,.72) (66,.47)}\eb{15}{.22}{.4}\eb{23}{.1}{1}\eb{42}{.62}{.82}\eb{66}{.25}{.6}}
\end{tikzpicture}
\end{document}
